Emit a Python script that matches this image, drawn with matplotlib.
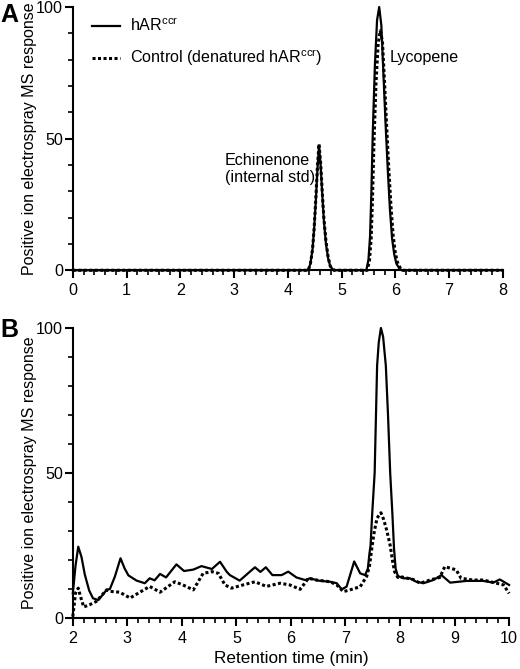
import matplotlib
matplotlib.use('Agg')
import matplotlib.pyplot as plt
from matplotlib.ticker import MultipleLocator

plt.rcParams['font.family'] = ['Liberation Sans', 'DejaVu Sans']
plt.rcParams['mathtext.default'] = 'regular'

# Panel A: LC-MS trace, retention time (min) vs response
a_har_t = [0.0, 4.38, 4.42, 4.46, 4.49, 4.52, 4.55, 4.58, 4.61, 4.64, 4.67, 4.71, 4.75, 4.79, 4.85,
           5.46, 5.50, 5.53, 5.555, 5.58, 5.62, 5.66, 5.70, 5.74, 5.78, 5.82, 5.86, 5.90, 5.94, 5.98,
           6.02, 6.08, 6.12, 8.0]
a_har_y = [0, 0, 2.5, 8, 16, 26, 38, 47.3, 40, 29, 19, 10, 4.5, 1.5, 0,
           0, 4, 13, 30, 52, 78, 95, 100, 93, 74, 55, 38, 23, 12, 6,
           2.5, 0.5, 0, 0]
a_ctl_t = [0.0, 4.38, 4.42, 4.46, 4.49, 4.52, 4.55, 4.58, 4.61, 4.64, 4.67, 4.71, 4.75, 4.79, 4.86,
           5.48, 5.52, 5.55, 5.575, 5.60, 5.64, 5.68, 5.72, 5.76, 5.80, 5.84, 5.88, 5.92, 5.96, 6.00,
           6.04, 6.10, 6.14, 8.0]
a_ctl_y = [0, 0, 2.5, 8, 16, 27, 39, 48, 41, 30, 20, 11, 5, 1.5, 0,
           0, 4, 12, 27, 47, 71, 86, 91, 87, 71, 54, 38, 24, 13, 6.5,
           3, 0.5, 0, 0]

# Panel B
b_har_t = [2.00, 2.05, 2.10, 2.16, 2.22, 2.30, 2.37, 2.47, 2.62, 2.68, 2.77, 2.875, 2.95, 3.02, 3.17,
           3.32, 3.41, 3.50, 3.60, 3.71, 3.90, 4.04, 4.21, 4.36, 4.55, 4.70, 4.82, 4.88, 5.06, 5.34,
           5.44, 5.54, 5.66, 5.83, 5.95, 6.10, 6.26, 6.35, 6.50, 6.72, 6.84, 6.93, 7.02, 7.16, 7.27,
           7.36, 7.41, 7.44, 7.46, 7.49, 7.535, 7.58, 7.61, 7.65, 7.69, 7.74, 7.78, 7.82, 7.86, 7.89,
           7.92, 7.96, 8.06, 8.18, 8.30, 8.43, 8.61, 8.76, 8.92, 9.22, 9.53, 9.71, 9.83, 10.0]
b_har_y = [8.5, 18, 24.6, 21, 15, 9.5, 6.8, 6.2, 9.7, 10, 14.2, 20.6, 17.1, 14.7, 12.9,
           12, 13.7, 13, 15.2, 14, 18.5, 16.2, 16.7, 17.9, 16.9, 19.4, 16, 14.8, 12.9, 17.5,
           15.9, 17.5, 14.8, 14.8, 16, 14, 13.1, 13.7, 12.9, 12.5, 12, 9.9, 10.8, 19.5, 15.4,
           14.8, 17, 22.3, 25, 36, 50, 87, 95, 100, 97, 87, 70, 50, 36, 24,
           17, 14.5, 13.7, 13.7, 12.5, 12, 13.1, 14.8, 12.2, 12.8, 12.8, 12.2, 13.3, 11.4]
b_ctl_t = [2.00, 2.05, 2.10, 2.14, 2.20, 2.31, 2.43, 2.62, 2.68, 2.86, 3.05, 3.23, 3.41, 3.60, 3.87,
           4.02, 4.21, 4.39, 4.55, 4.67, 4.79, 4.91, 5.12, 5.34, 5.55, 5.80, 5.98, 6.17, 6.32, 6.47,
           6.72, 6.84, 6.96, 7.08, 7.27, 7.39, 7.44, 7.49, 7.53, 7.58, 7.65, 7.70, 7.76, 7.82, 7.86,
           7.90, 7.96, 8.00, 8.24, 8.37, 8.55, 8.73, 8.82, 8.94, 9.03, 9.12, 9.34, 9.53, 9.77, 9.90,
           10.0]
b_ctl_y = [0.5, 8.6, 10.3, 7.5, 3.8, 4.6, 5.7, 9.7, 9.2, 8.9, 6.9, 8.9, 10.9, 8.9, 12.5,
           11.4, 9.7, 15.4, 16, 15.4, 11.4, 10.3, 11.4, 12.5, 10.9, 12, 11.4, 9.9, 13.7, 13.1,
           12.5, 11.4, 9.1, 9.7, 10.8, 14.4, 18, 25, 30, 34.5, 36.3, 34, 30, 25, 20,
           16, 14, 14.3, 13.3, 12, 13.1, 14, 17.7, 17.1, 16.6, 13.7, 13.1, 13.1, 12, 11.4,
           8.5]

ylabel = 'Positive ion electrospray MS response'
dotted = (0, (1, 0.8))
fs = 11.6


def style_axes(ax, xmin, xmax):
    ax.set_xlim(xmin, xmax)
    ax.set_ylim(0, 100)
    for s in ['top', 'right']:
        ax.spines[s].set_visible(False)
    for s in ['left', 'bottom']:
        ax.spines[s].set_linewidth(1.5)
    ax.xaxis.set_major_locator(MultipleLocator(1))
    ax.xaxis.set_minor_locator(MultipleLocator(0.2))
    ax.yaxis.set_major_locator(MultipleLocator(50))
    ax.yaxis.set_minor_locator(MultipleLocator(10))
    ax.tick_params(which='major', length=6, width=1.5, labelsize=fs)
    ax.tick_params(axis='y', which='major', pad=1)
    ax.tick_params(axis='x', which='major', pad=3)
    ax.tick_params(which='minor', length=3.5, width=1.2)
    ax.set_ylabel(ylabel, fontsize=11.5)


fig = plt.figure(figsize=(5.2, 6.69), dpi=100)
axA = fig.add_axes([0.140, 0.596, 0.827, 0.3935])
axB = fig.add_axes([0.140, 0.0762, 0.839, 0.4335])

axA.plot(a_har_t, a_har_y, color='black', lw=1.6, label='hAR$^{ccr}$', clip_on=False)
axA.plot(a_ctl_t, a_ctl_y, color='black', lw=2.2, ls=dotted, label='Control (denatured hAR$^{ccr}$)', clip_on=False)
style_axes(axA, 0, 8)
axA.yaxis.set_label_coords(-0.084, 0.5)
axA.text(5.9, 81, 'Lycopene', fontsize=fs, va='center', ha='left')
axA.text(2.83, 38.5, 'Echinenone\n(internal std)', fontsize=fs, va='center', ha='left', linespacing=1.2)
axA.legend(loc='upper left', bbox_to_anchor=(0.044, 0.962), frameon=False, fontsize=fs,
           handlelength=1.75, labelspacing=0.85, handletextpad=0.6, borderpad=0, borderaxespad=0)

axB.plot(b_har_t, b_har_y, color='black', lw=1.6, clip_on=False)
axB.plot(b_ctl_t, b_ctl_y, color='black', lw=2.2, ls=dotted, clip_on=False)
style_axes(axB, 2, 10)
axB.yaxis.set_label_coords(-0.083, 0.5)
axB.set_xlabel('Retention time (min)', fontsize=12.3, labelpad=4)

fig.text(0.0, 0.995, 'A', fontsize=18, fontweight='bold', va='top', ha='left')
fig.text(0.0, 0.525, 'B', fontsize=18, fontweight='bold', va='top', ha='left')

fig.savefig('out.png', dpi=100)
